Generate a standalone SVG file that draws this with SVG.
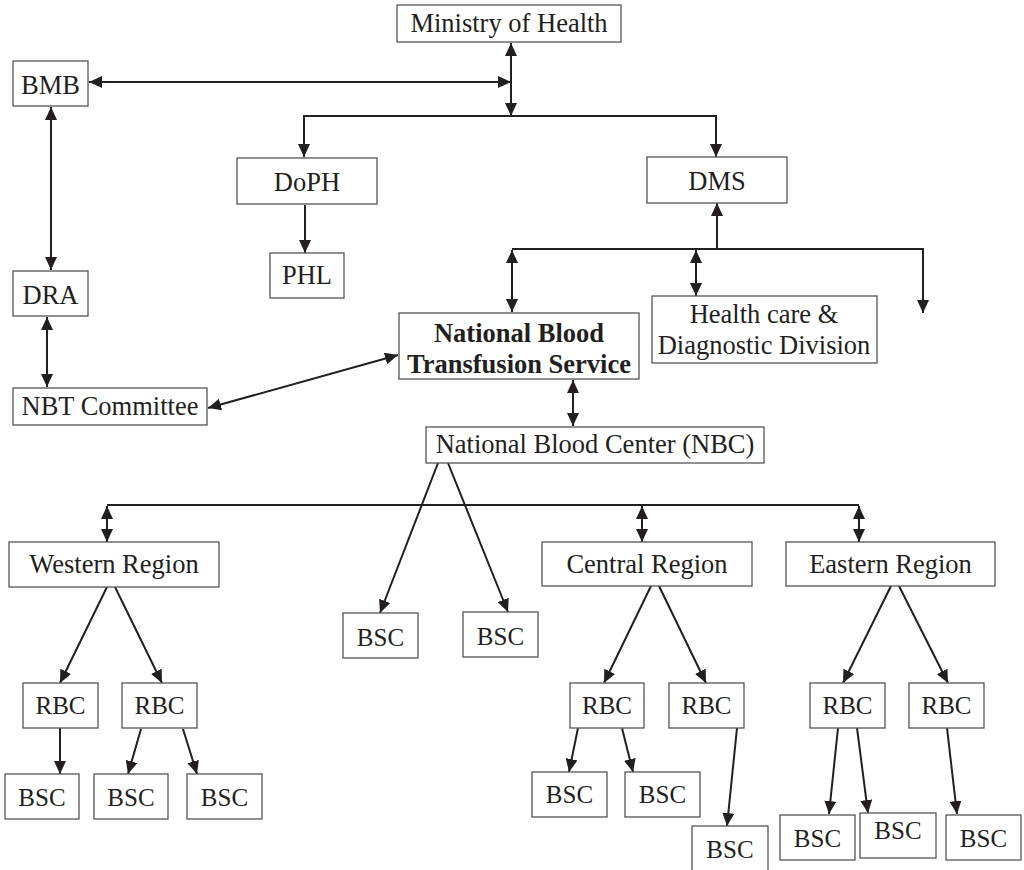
<svg xmlns="http://www.w3.org/2000/svg" width="1024" height="870" viewBox="0 0 1024 870">
<style>
.box{fill:#fff;stroke:#555;stroke-width:1.3}
.t{font-size:26.5px;fill:#231f20;text-anchor:middle}
.s{font-size:25px}
.b{font-weight:bold}
.c{fill:none;stroke:#231f20;stroke-width:2}
.a{marker-end:url(#ah)}
.d{marker-start:url(#ah);marker-end:url(#ah)}
</style>
<defs>
<marker id="ah" markerUnits="userSpaceOnUse" markerWidth="13" markerHeight="12" refX="13" refY="6" orient="auto-start-reverse" viewBox="0 0 13 12">
<path d="M0,0 L13,6 L0,12 z" fill="#231f20"/>
</marker>
</defs>
<rect width="1024" height="870" fill="#fff"/>
<g id="connectors">
<line class="c d" x1="511" y1="43" x2="511" y2="116"/>
<line class="c d" x1="89" y1="82" x2="511" y2="82"/>
<path class="c d" d="M304,157 L304,116 L716,116 L716,157"/>
<line class="c a" x1="305" y1="205" x2="305" y2="253"/>
<line class="c d" x1="51" y1="107" x2="51" y2="270"/>
<line class="c d" x1="47" y1="317" x2="47" y2="387"/>
<line class="c d" x1="208" y1="408" x2="398" y2="355"/>
<line class="c a" x1="717" y1="249" x2="717" y2="203"/>
<path class="c" d="M512,249 L923,249 L923,260"/>
<line class="c a" x1="923" y1="250" x2="923" y2="313"/>
<line class="c d" x1="512" y1="250" x2="512" y2="312"/>
<line class="c d" x1="696" y1="250" x2="696" y2="296"/>
<line class="c d" x1="573" y1="380" x2="573" y2="426"/>
<line class="c" x1="107" y1="505" x2="859" y2="505"/>
<line class="c d" x1="107" y1="506" x2="107" y2="542"/>
<line class="c d" x1="642" y1="506" x2="642" y2="542"/>
<line class="c d" x1="859" y1="506" x2="859" y2="542"/>
<line class="c a" x1="438" y1="463" x2="380" y2="613"/>
<line class="c a" x1="448" y1="463" x2="508" y2="612"/>
<line class="c a" x1="107" y1="587" x2="60" y2="683"/>
<line class="c a" x1="115" y1="587" x2="162" y2="683"/>
<line class="c a" x1="60" y1="728" x2="60" y2="774"/>
<line class="c a" x1="141" y1="729" x2="128" y2="774"/>
<line class="c a" x1="183" y1="729" x2="197" y2="774"/>
<line class="c a" x1="651" y1="586" x2="604" y2="683"/>
<line class="c a" x1="659" y1="586" x2="706" y2="683"/>
<line class="c a" x1="578" y1="728" x2="569" y2="772"/>
<line class="c a" x1="622" y1="728" x2="633" y2="772"/>
<line class="c a" x1="737" y1="728" x2="727" y2="826"/>
<line class="c a" x1="891" y1="586" x2="843" y2="683"/>
<line class="c a" x1="899" y1="586" x2="948" y2="683"/>
<line class="c a" x1="838" y1="728" x2="829" y2="814"/>
<line class="c a" x1="857" y1="728" x2="868" y2="813"/>
<line class="c a" x1="947" y1="728" x2="957" y2="814"/>
</g>
<g id="nodes" font-family="Liberation Serif, Times New Roman, serif">
<g id="ministry"><rect class="box" x="397" y="5" width="224" height="37"/><text class="t" x="509" y="32">Ministry of Health</text></g>
<g id="bmb"><rect class="box" x="13" y="61" width="75" height="45"/><text class="t" x="50.5" y="94">BMB</text></g>
<g id="doph"><rect class="box" x="237" y="158" width="140" height="46"/><text class="t" x="307" y="191">DoPH</text></g>
<g id="dms"><rect class="box" x="647" y="157" width="140" height="46"/><text class="t" x="717" y="190">DMS</text></g>
<g id="phl"><rect class="box" x="270" y="253" width="74" height="45"/><text class="t" x="307" y="284">PHL</text></g>
<g id="dra"><rect class="box" x="13" y="271" width="75" height="45"/><text class="t" x="50.5" y="304">DRA</text></g>
<g id="nbtc"><rect class="box" x="13" y="388" width="194" height="37"/><text class="t" x="110" y="415">NBT Committee</text></g>
<g id="nbts"><rect class="box" x="399" y="313" width="240" height="66"/><text class="t b" x="519" y="342">National Blood</text><text class="t b" x="519" y="373">Transfusion Service</text></g>
<g id="hcdd"><rect class="box" x="652" y="296" width="225" height="67"/><text class="t" x="764" y="323">Health care &amp;</text><text class="t" x="764" y="354">Diagnostic Division</text></g>
<g id="nbc"><rect class="box" x="426" y="427" width="338" height="36"/><text class="t" x="595" y="453">National Blood Center (NBC)</text></g>
<g id="western"><rect class="box" x="9" y="542" width="210" height="45"/><text class="t" x="114" y="573">Western Region</text></g>
<g id="central"><rect class="box" x="542" y="542" width="210" height="44"/><text class="t" x="647" y="573">Central Region</text></g>
<g id="eastern"><rect class="box" x="786" y="542" width="209" height="44"/><text class="t" x="890.5" y="573">Eastern Region</text></g>
<g id="bsc_n1"><rect class="box" x="343" y="613" width="75" height="45"/><text class="t s" x="380.5" y="646">BSC</text></g>
<g id="bsc_n2"><rect class="box" x="463" y="612" width="75" height="45"/><text class="t s" x="500.5" y="645">BSC</text></g>
<g id="rbc_w1"><rect class="box" x="23" y="683" width="75" height="45"/><text class="t s" x="60.5" y="714">RBC</text></g>
<g id="rbc_w2"><rect class="box" x="122" y="683" width="75" height="45"/><text class="t s" x="159.5" y="714">RBC</text></g>
<g id="bsc_w1"><rect class="box" x="5" y="774" width="74" height="45"/><text class="t s" x="42" y="806">BSC</text></g>
<g id="bsc_w2"><rect class="box" x="94" y="774" width="74" height="45"/><text class="t s" x="131" y="806">BSC</text></g>
<g id="bsc_w3"><rect class="box" x="187" y="774" width="75" height="45"/><text class="t s" x="224.5" y="806">BSC</text></g>
<g id="rbc_c1"><rect class="box" x="570" y="683" width="74" height="45"/><text class="t s" x="607" y="714">RBC</text></g>
<g id="rbc_c2"><rect class="box" x="669" y="683" width="75" height="45"/><text class="t s" x="706.5" y="714">RBC</text></g>
<g id="bsc_c1"><rect class="box" x="532" y="772" width="75" height="45"/><text class="t s" x="569.5" y="803">BSC</text></g>
<g id="bsc_c2"><rect class="box" x="625" y="772" width="75" height="45"/><text class="t s" x="662.5" y="803">BSC</text></g>
<g id="bsc_c3"><rect class="box" x="692" y="826" width="76" height="50"/><text class="t s" x="730" y="858">BSC</text></g>
<g id="rbc_e1"><rect class="box" x="810" y="683" width="75" height="45"/><text class="t s" x="847.5" y="714">RBC</text></g>
<g id="rbc_e2"><rect class="box" x="909" y="683" width="75" height="45"/><text class="t s" x="946.5" y="714">RBC</text></g>
<g id="bsc_e1"><rect class="box" x="780" y="815" width="75" height="45"/><text class="t s" x="817.5" y="847">BSC</text></g>
<g id="bsc_e2"><rect class="box" x="860" y="813" width="76" height="45"/><text class="t s" x="898" y="839">BSC</text></g>
<g id="bsc_e3"><rect class="box" x="946" y="815" width="75" height="45"/><text class="t s" x="983.5" y="847">BSC</text></g>
</g>
</svg>
